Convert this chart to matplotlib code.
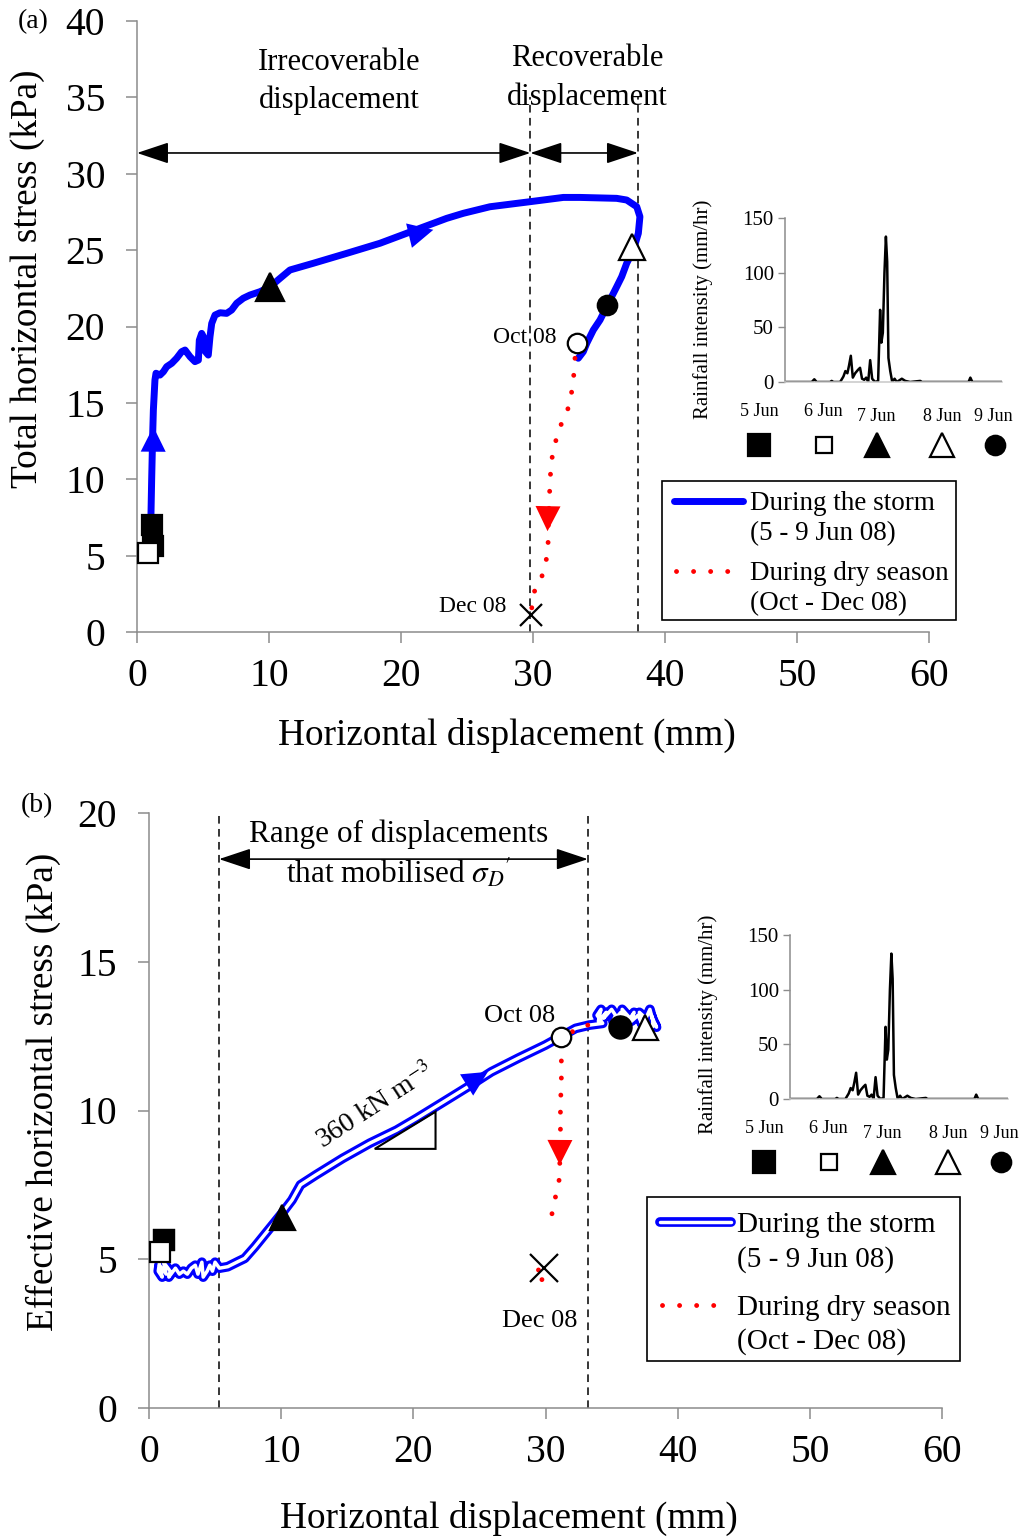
import numpy as np
import matplotlib
matplotlib.use("Agg")
import matplotlib.pyplot as plt
from matplotlib.patches import Rectangle, Polygon

BLUE, RED, GREY = "#0000ff", "#ff0000", "#8c8c8c"

plt.rcParams.update({
    "font.family": ["Liberation Serif", "DejaVu Serif"],
    "mathtext.fontset": "stix",
    "axes.edgecolor": GREY, "axes.linewidth": 1.1,
    "xtick.color": GREY, "ytick.color": GREY,
    "xtick.labelcolor": "black", "ytick.labelcolor": "black",
})

# ---- panel (a): total horizontal stress vs displacement ----
A_STORM_X = [1.05, 1.03, 1.11, 1.19, 1.24, 1.36, 1.44, 1.74, 2.0, 2.25, 2.63, 3.0, 3.38, 3.64,
             4.02, 4.39, 4.65, 4.72, 4.9, 5.03, 5.08, 5.4, 5.53, 5.66, 5.91, 6.29, 6.79, 7.17,
             7.55, 8.05, 8.56, 9.32, 10.08, 10.83, 11.59, 13.36, 15.89, 18.41, 21.44, 23.46,
             24.72, 26.74, 29.77, 32.3, 33.56, 36.34, 37.1, 37.86, 38.1, 37.98, 37.6, 37.1,
             36.72, 36.34, 35.83, 35.58, 35.08, 34.57, 34.07, 33.81, 33.43]
A_STORM_Y = [5.5, 6.46, 9.95, 13.0, 14.53, 16.5, 16.94, 16.82, 17.04, 17.37, 17.59, 17.92, 18.35,
             18.46, 18.02, 17.7, 17.8, 19.1, 19.55, 19.33, 18.46, 18.13, 19.33, 20.2, 20.75, 20.9,
             20.86, 21.08, 21.52, 21.85, 22.06, 22.28, 22.6, 23.15, 23.7, 24.14, 24.79, 25.45,
             26.43, 27.08, 27.41, 27.84, 28.17, 28.45, 28.45, 28.39, 28.28, 27.84, 27.19, 26.1,
             25.0, 24.14, 23.26, 22.6, 21.73, 21.3, 20.43, 19.77, 18.9, 18.35, 17.92]
A_DRY_X = [33.18, 33.06, 32.8, 32.42, 32.05, 31.67, 31.41, 31.29, 31.24, 31.16, 31.16, 31.04,
           30.9, 30.66, 30.4, 30.02, 29.85]
A_DRY_Y = [17.92, 16.5, 14.97, 14.1, 13.44, 12.35, 11.26, 9.95, 8.64, 7.12, 6.02, 4.93, 4.17,
           3.62, 3.08, 2.53, 1.11]
# markers: 5 Jun (two), 6 Jun, 7 Jun, 8 Jun, 9 Jun, Oct 08, Dec 08
A_MARK_X = [1.2, 1.1, 0.86, 10.08, 37.47, 35.58, 33.3, 29.85]
A_MARK_Y = [5.6, 7.0, 5.15, 22.6, 25.22, 21.4, 18.9, 1.11]
A_BOUNDS = [29.8, 37.95]

# ---- panel (b): effective horizontal stress vs displacement ----
B_STORM_X = [0.9, 0.7, 1.0, 0.8, 1.3, 1.1, 1.6, 1.5, 2.0, 2.3, 2.6, 2.9, 3.2, 3.5, 3.7, 4.0,
             4.1, 4.4, 4.6, 4.8, 5.0, 5.33, 5.96, 6.73, 7.24, 8.01, 9.03, 10.05, 10.82, 11.46,
             12.61, 14.65, 16.7, 18.74, 20.27, 22.32, 24.36, 25.9, 27.94, 29.99, 31.13, 32.28,
             33.31, 34.33, 33.9, 34.2, 34.0, 34.6, 34.4, 35.0, 35.3, 35.1, 35.7, 36.0, 35.8,
             36.4, 36.7, 36.5, 37.0, 37.3, 37.1, 37.6, 37.9, 38.2, 38.0, 38.4, 38.3, 37.8, 38.1]
B_STORM_Y = [5.2, 4.6, 4.4, 4.8, 4.5, 4.9, 4.6, 4.4, 4.7, 4.5, 4.6, 4.5, 4.7, 4.8, 4.5, 4.9,
             4.4, 4.6, 4.8, 4.6, 4.9, 4.7, 4.75, 4.92, 5.03, 5.42, 5.98, 6.54, 6.99, 7.5, 7.83,
             8.39, 8.9, 9.34, 9.74, 10.3, 10.86, 11.3, 11.76, 12.2, 12.48, 12.76, 12.87, 12.93,
             13.2, 13.4, 13.0, 13.3, 13.1, 13.4, 13.2, 13.0, 13.3, 13.1, 13.4, 13.1, 13.3, 13.0,
             13.2, 12.9, 13.3, 13.1, 13.4, 12.9, 13.2, 12.8, 12.9, 12.7, 12.9]
B_DRY_X = [33.2, 32.3, 31.2, 31.2, 31.2, 31.13, 31.13, 31.13, 31.08, 31.08, 31.0, 30.88, 30.7,
           30.5, 30.24, np.nan, 29.47, 29.35, 29.99, 29.8]
B_DRY_Y = [12.87, 12.76, 12.3, 11.7, 11.03, 10.13, 9.46, 9.01, 8.34, 7.89, 7.55, 7.33, 6.99,
           6.54, 6.26, np.nan, 4.64, 4.25, 4.36, 4.55]
B_MARK_X = [1.1, 1.1, 0.86, 10.05, 37.5, 35.6, 31.17, 29.86]
B_MARK_Y = [5.65, 5.65, 5.26, 6.43, 12.82, 12.82, 12.48, 4.7]
B_BOUNDS = [5.3, 33.2]
SLOPE_X = [17.08, 21.68, 21.68, 17.08]
SLOPE_Y = [8.71, 8.71, 9.96, 8.71]

# ---- rainfall inset (hours from 5 Jun) ----
RAIN_T = [0, 14.8, 16.2, 17.5, 24.9, 25.8, 26.8, 30.5, 32.3, 33.4, 34.5, 35.4, 36.4, 37.5,
          38.8, 40.3, 41.5, 42.6, 43.8, 44.9, 46.0, 47.1, 48.2, 49.8, 51.5, 52.6, 53.3, 54.1,
          55.0, 55.8, 56.5, 57.2, 58.2, 59.3, 60.6, 61.8, 64.6, 66.5, 69.2, 74.8, 75.7, 101.5,
          102.5, 103.6, 120]
RAIN_I = [0, 0, 2.5, 0, 0, 1, 0, 0, 5, 10, 8, 15, 24, 4, 8, 11, 13, 3, 2, 4, 0, 20, 3, 0, 1,
          66, 36, 45, 100, 133, 110, 22, 10, 0, 3, 0, 3, 1, 0, 1, 0, 0, 4, 0, 0]
DATES = ["5 Jun", "6 Jun", "7 Jun", "8 Jun", "9 Jun"]
DATE_FX = [-0.12, 0.177, 0.422, 0.724, 0.961]
DATE_FY = [-0.18, -0.18, -0.21, -0.21, -0.21]
DAY_MARK_FX = [-0.12, 0.18, 0.425, 0.724, 0.97]

# marker styles: (marker, face, size)
STYLES = [("s", "black", 14), ("s", "black", 14), ("s", "white", 14), ("^", "black", 20),
          ("^", "white", 19), ("o", "black", 14), ("o", "white", 14), ("x", "black", 16)]
DAY_STYLES = [("s", "black", 16), ("s", "white", 12), ("^", "black", 17), ("^", "white", 17),
              ("o", "black", 14)]

fig = plt.figure(figsize=(10.19, 15.39), dpi=100)
ax_a = fig.add_axes([137 / 1019, 1 - 632 / 1539, 792 / 1019, 611 / 1539])
ax_b = fig.add_axes([149 / 1019, 1 - 1408 / 1539, 793 / 1019, 595 / 1539])


def style_main(ax, ymax, ystep):
    ax.set_xlim(0, 60)
    ax.set_ylim(0, ymax)
    ax.set_xticks(range(0, 61, 10))
    ax.set_yticks(np.arange(0, ymax + 1, ystep))
    for s in ("top", "right"):
        ax.spines[s].set_visible(False)
    ax.tick_params(direction="out", length=8, width=1.1, labelsize=28.5)
    ax.tick_params(axis="y", pad=15)
    ax.tick_params(axis="x", pad=11)


def head(ax, p0, p1, color, scale=30):
    ax.annotate("", xy=p1, xytext=p0,
                arrowprops=dict(arrowstyle="-|>,head_length=0.6,head_width=0.3", color=color,
                                lw=0, mutation_scale=scale, shrinkA=0, shrinkB=0))


def span(ax, x0, x1, y):
    ax.annotate("", xy=(x1, y), xytext=(x0, y),
                arrowprops=dict(arrowstyle="<|-|>,head_length=0.9,head_width=0.3", color="black",
                                lw=1.2, mutation_scale=22, shrinkA=0, shrinkB=0))


def markers(ax, xs, ys, styles, **kw):
    for x, y, (m, fc, ms) in zip(xs, ys, styles):
        ax.plot(x, y, marker=m, ms=ms, mfc=fc, mec="black", mew=1.6, ls="none",
                clip_on=False, zorder=6, **kw)


def inset(rect, lab_fx, lab_fy):
    ax = fig.add_axes(rect)
    ax.plot(RAIN_T, RAIN_I, color="black", lw=1.8)
    ax.set_xlim(0, 120)
    ax.set_ylim(0, 150)
    ax.set_yticks([0, 50, 100, 150])
    ax.set_xticks([])
    for s in ("top", "right"):
        ax.spines[s].set_visible(False)
    ax.spines["bottom"].set_color("#c8c8c8")
    ax.tick_params(direction="out", length=5, width=1.0, labelsize=15, pad=3)
    ax.set_ylabel("Rainfall intensity (mm/hr)", fontsize=15, va="center")
    ax.yaxis.set_label_coords(lab_fx, lab_fy)
    for d, fx, fy in zip(DATES, DATE_FX, DATE_FY):
        ax.text(fx, fy, d, transform=ax.transAxes, fontsize=13, ha="center", va="center")
    markers(ax, DAY_MARK_FX, [-0.387] * 5, DAY_STYLES, transform=ax.transAxes)
    return ax


# ---- panel (a) ----
style_main(ax_a, 40, 5)
for xb in A_BOUNDS:
    ax_a.plot([xb, xb], [0, 35], color="black", lw=1.1, ls=(0, (5, 3.5)), zorder=2)
span(ax_a, 0, A_BOUNDS[0], 31.36)
span(ax_a, A_BOUNDS[0], A_BOUNDS[1], 31.36)
ax_a.plot(A_STORM_X, A_STORM_Y, color=BLUE, lw=5, solid_capstyle="round",
          solid_joinstyle="round", zorder=3)
ax_a.plot(A_DRY_X, A_DRY_Y, color=RED, lw=3.5, ls=(0, (0.01, 3.5)), dash_capstyle="round",
          zorder=3)
head(ax_a, (1.22, 11.0), (1.24, 13.44), BLUE)
head(ax_a, (19.5, 25.72), (22.45, 26.33), BLUE)
head(ax_a, (31.15, 8.8), (31.1, 6.6), RED)
markers(ax_a, A_MARK_X, A_MARK_Y, STYLES)
ax_a.text(15.3, 36.05, "Irrecoverable\ndisplacement", fontsize=22, ha="center", va="center",
          linespacing=1.38)
ax_a.text(34.1, 36.27, "Recoverable\ndisplacement", fontsize=22, ha="center", va="center",
          linespacing=1.38)
ax_a.text(31.8, 19.3, "Oct 08", fontsize=17, ha="right", va="center")
ax_a.text(28.0, 1.7, "Dec 08", fontsize=17, ha="right", va="center")
ax_a.set_xlabel("Horizontal displacement (mm)", fontsize=26.8, va="center")
ax_a.xaxis.set_label_coords(0.467, -0.170)
ax_a.set_ylabel("Total horizontal stress (kPa)", fontsize=26.8, va="center")
ax_a.yaxis.set_label_coords(-0.1376, 0.578)

# ---- panel (b) ----
style_main(ax_b, 20, 5)
for xb in B_BOUNDS:
    ax_b.plot([xb, xb], [0, 20], color="black", lw=1.1, ls=(0, (5, 3.5)), zorder=2)
span(ax_b, B_BOUNDS[0], B_BOUNDS[1], 18.45)
ax_b.plot(B_STORM_X, B_STORM_Y, color=BLUE, lw=7, solid_capstyle="round",
          solid_joinstyle="round", zorder=3)
ax_b.plot(B_STORM_X, B_STORM_Y, color="white", lw=2.5, solid_capstyle="round",
          solid_joinstyle="round", zorder=3)
ax_b.plot(B_DRY_X, B_DRY_Y, color=RED, lw=3.5, ls=(0, (0.01, 3.5)), dash_capstyle="round",
          zorder=4)
head(ax_b, (23.6, 10.74), (25.64, 11.3), BLUE)
head(ax_b, (31.1, 9.6), (31.08, 8.17), RED)
ax_b.add_patch(Polygon(list(zip(SLOPE_X, SLOPE_Y)), closed=True, fill=False, ec="black",
                       lw=1.5, zorder=3))
ax_b.text(17.17, 10.15, "360 kN m$^{\\mathrm{-3}}$", fontsize=20, rotation=33,
          rotation_mode="anchor", ha="center", va="center")
markers(ax_b, B_MARK_X, B_MARK_Y, [STYLES[0], STYLES[1], STYLES[2], ("^", "black", 18),
                                   ("^", "white", 18), ("o", "black", 16), ("o", "white", 14),
                                   ("x", "black", 20)])
ax_b.text(18.9, 19.29, "Range of displacements", fontsize=22.5, ha="center", va="center")
ax_b.text(18.9, 17.98, "that mobilised $\\sigma_D{}'$", fontsize=22.5, ha="center",
          va="center")
ax_b.text(28.06, 13.18, "Oct 08", fontsize=19, ha="center", va="center")
ax_b.text(29.58, 2.92, "Dec 08", fontsize=19, ha="center", va="center")
ax_b.set_xlabel("Horizontal displacement (mm)", fontsize=26.8, va="center")
ax_b.xaxis.set_label_coords(0.454, -0.185)
ax_b.set_ylabel("Effective horizontal stress (kPa)", fontsize=26.8, va="center")
ax_b.yaxis.set_label_coords(-0.1337, 0.531)

# ---- insets ----
inset([785 / 1019, 1 - 382 / 1539, 217 / 1019, 164 / 1539], -0.378, 0.445)
inset([790 / 1019, 1 - 1099 / 1539, 218 / 1019, 164 / 1539], -0.376, 0.457)

# ---- legends and panel letters (pixel overlay) ----
ov = fig.add_axes([0, 0, 1, 1])
ov.set_xlim(0, 1019)
ov.set_ylim(1539, 0)
ov.axis("off")


def legend(box, x_line, x_text, ys, fs, double):
    x0, y0, w, h = box
    ov.add_patch(Rectangle((x0, y0), w, h, fill=False, ec="black", lw=1.2))
    if double:
        ov.plot(x_line, [ys[0]] * 2, color=BLUE, lw=7, solid_capstyle="round")
        ov.plot(x_line, [ys[0]] * 2, color="white", lw=2.5, solid_capstyle="round")
    else:
        ov.plot(x_line, [ys[0]] * 2, color=BLUE, lw=5, solid_capstyle="round")
    ov.plot([x_line[0] + 2, x_line[1] - 6], [ys[2]] * 2, color=RED, lw=3.5,
            ls=(0, (0.01, 3.5)), dash_capstyle="round")
    for y, t in zip(ys, ["During the storm", "(5 - 9 Jun 08)", "During dry season",
                         "(Oct - Dec 08)"]):
        ov.text(x_text, y, t, fontsize=fs, va="center_baseline")


legend((662, 481, 294, 139), [674, 743], 750, [501, 531, 571, 601], 19.5, False)
legend((647, 1197, 313, 164), [660, 731], 737, [1222, 1256, 1305, 1338], 21, True)
ov.text(33, 22, "(a)", fontsize=20, ha="center", va="center")
ov.text(37, 806, "(b)", fontsize=20, ha="center", va="center")

fig.savefig("out.png", dpi=100)
